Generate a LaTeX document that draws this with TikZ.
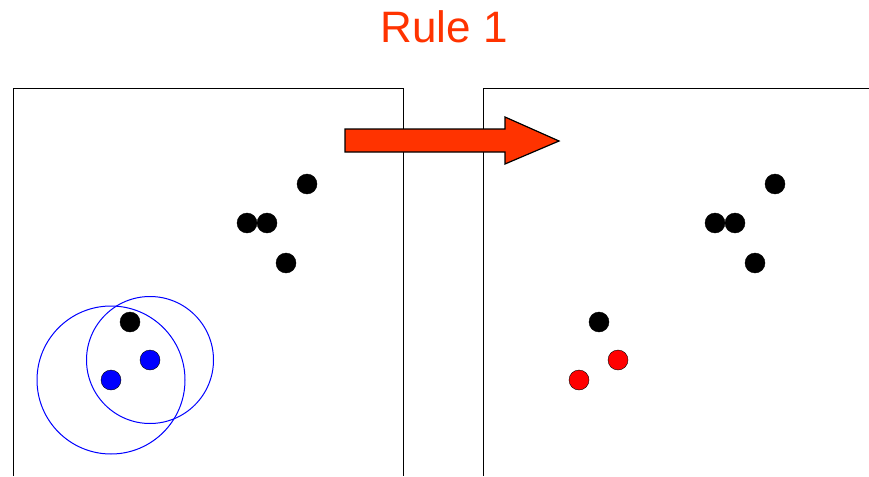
\documentclass[tikz,border=0pt]{standalone}
\usepackage{fontspec}
\setmainfont{Liberation Sans}
\definecolor{ruleorange}{RGB}{255,51,0}
\definecolor{dotblue}{RGB}{0,0,255}
\definecolor{dotred}{RGB}{255,0,0}
\begin{document}
\begin{tikzpicture}[x=1pt,y=-1pt,
    dot/.style={circle,draw=black,line width=0.4pt,inner sep=0pt,minimum size=20pt,fill=black}]
    \useasboundingbox (0,0) rectangle (869,476);
	\node[text=ruleorange,font=\fontsize{44}{52}\selectfont,anchor=base] (title) at (444,43) {Rule 1};

	% the two frames
	\draw[line width=0.8pt] (13,476) -- (13,88) -- (403,88) -- (403,476);
	\draw[line width=0.8pt] (483,476) -- (483,88) -- (869,88);

	% left frame
	\node[dot] (la) at (307,184) {};
	\node[dot] (lb) at (247,223) {};
	\node[dot] (lc) at (267,223) {};
	\node[dot] (ld) at (286,263) {};
	\node[dot] (le) at (130,322) {};
	\node[dot,fill=dotblue] (lf) at (150,360) {};
	\node[dot,fill=dotblue] (lg) at (111,380) {};
	\draw[dotblue,line width=1pt] (lg.center) circle (74pt);
	\draw[dotblue,line width=1pt] (lf.center) circle (63.5pt);

	% right frame
	\node[dot] (ra) at (775,184) {};
	\node[dot] (rb) at (715,223) {};
	\node[dot] (rc) at (735,223) {};
	\node[dot] (rd) at (755,263) {};
	\node[dot] (re) at (599,322) {};
	\node[dot,fill=dotred] (rf) at (618,360) {};
	\node[dot,fill=dotred] (rg) at (579,380) {};

	% block arrow
	\filldraw[fill=ruleorange,draw=black,line width=1.2pt,line join=miter]
		(345,129) -- (505,129) -- (505,117) -- (559,141) -- (505,164) -- (505,152) -- (345,152) -- cycle;
\end{tikzpicture}
\end{document}
